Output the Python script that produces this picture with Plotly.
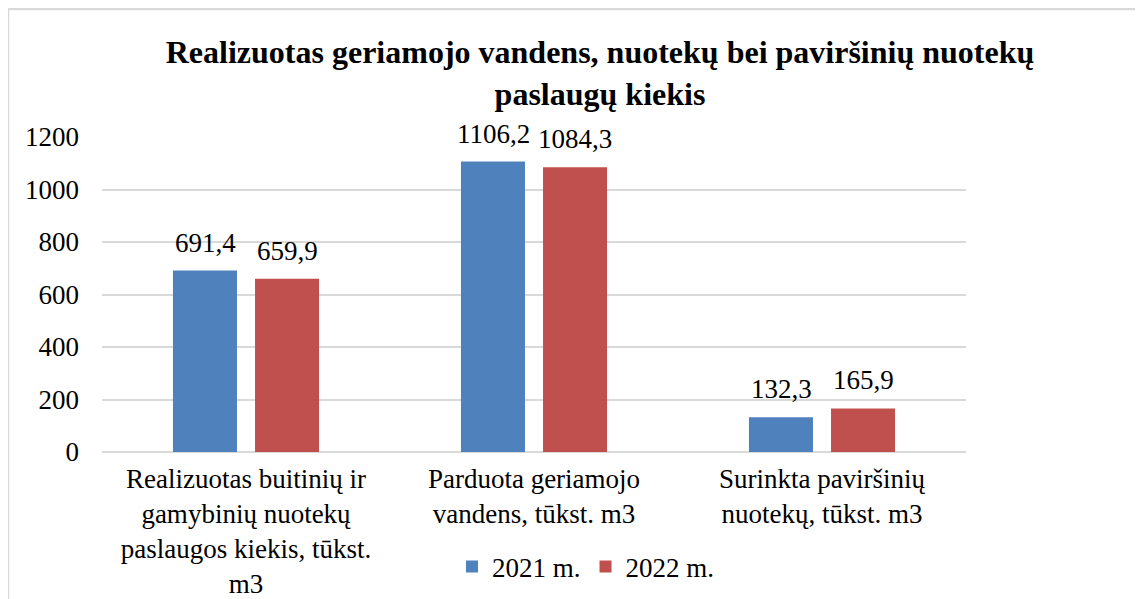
import plotly.graph_objects as go

categories = [
    "Realizuotas buitinių ir<br>gamybinių nuotekų<br>paslaugos kiekis, tūkst.<br>m3",
    "Parduota geriamojo<br>vandens, tūkst. m3",
    "Surinkta paviršinių<br>nuotekų, tūkst. m3",
]
series_names = ["2021 m.", "2022 m."]
values_2021 = [691.4, 1106.2, 132.3]
values_2022 = [659.9, 1084.3, 165.9]
colors = ["#4F81BD", "#C0504D"]
title_text = "<b>Realizuotas geriamojo vandens, nuotekų bei paviršinių nuotekų<br>paslaugų kiekis</b>"
yticks = [0, 200, 400, 600, 800, 1000, 1200]

FONT = "Liberation Serif"
FS = 27

def fmt(v):
    return f"{v:.1f}".replace(".", ",")

fig = go.Figure()
for name, vals, col in zip(series_names, [values_2021, values_2022], colors):
    fig.add_trace(go.Bar(
        x=categories, y=vals, name=name, marker_color=col,
        marker_line_width=0,
    ))

# data labels
for vals, shift in zip([values_2021, values_2022], [-41, 41]):
    for c, v in zip(categories, vals):
        fig.add_annotation(x=c, y=v, text=fmt(v), showarrow=False,
                           xshift=shift, yshift=11, yanchor="bottom",
                           font=dict(family=FONT, size=FS, color="black"))

fig.update_layout(
    autosize=False, width=1143, height=599,
    margin=dict(l=94, r=185, t=129, b=155, autoexpand=False),
    paper_bgcolor="white", plot_bgcolor="white",
    barmode="group", bargap=0.43, bargroupgap=0.22,
    font=dict(family=FONT, size=FS, color="black"),
    title=dict(text=title_text, x=592/1143, xanchor="center", y=1 - 55/599, yanchor="middle",
               font=dict(family=FONT, size=32, color="black")),
    showlegend=True,
    legend=dict(orientation="h", x=(578 - 94) / 864, xanchor="center",
                y=(452 - 567) / 315, yanchor="middle", font=dict(family=FONT, size=FS),
                itemwidth=30, traceorder="normal"),
    xaxis=dict(showline=False, ticks="", ticklabelstandoff=8, automargin=False,
               tickfont=dict(family=FONT, size=FS)),
    yaxis=dict(range=[0, 1200], tickvals=yticks, showgrid=True, gridcolor="#D9D9D9",
               gridwidth=1.5, zeroline=True, zerolinecolor="#D9D9D9", zerolinewidth=1.5,
               ticks="", ticklabelstandoff=22, automargin=False,
               tickfont=dict(family=FONT, size=FS)),
)
fig.add_shape(type="line", xref="paper", yref="paper", x0=-94/864, x1=1.3,
              y0=(452-9)/315, y1=(452-9)/315, line=dict(color="#D9D9D9", width=2.5))
fig.add_shape(type="line", xref="paper", yref="paper", x0=-94/864, x1=-94/864,
              y0=(452-9)/315, y1=-0.6, line=dict(color="#D9D9D9", width=2.5))

fig.write_html("out.html")
